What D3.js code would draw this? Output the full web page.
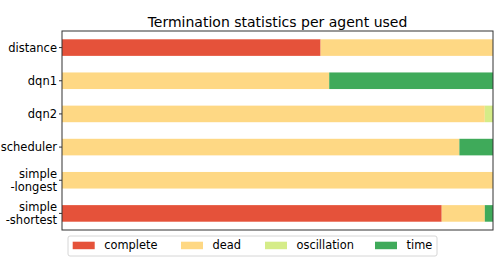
<!DOCTYPE html>
<html>
<head>
<meta charset="utf-8">
<script src="https://cdn.jsdelivr.net/npm/d3@7"></script>
<style>
  body { margin: 0; background: #fff; }
  svg { font-family: "DejaVu Sans", sans-serif; }
</style>
</head>
<body>
<div id="chart"></div>
<script>
// Data (fraction of runs per termination reason)
const agents = ["distance", "dqn1", "dqn2", "scheduler", "simple\n-longest", "simple\n-shortest"];
const complete = [0.60, 0, 0, 0, 0, 0.881];
const dead = [0.40, 0.62, 0.981, 0.922, 1.0, 0.10];
const oscillation = [0, 0, 0.019, 0, 0, 0];
const time = [0, 0.38, 0, 0.078, 0, 0.019];
const reasons = ["complete", "dead", "oscillation", "time"];
const colors = ["#e5523a", "#fed884", "#d5ec88", "#3faa5a"];

const width = 498;
const height = 259;
const margin = { top: 31, right: 5, bottom: 29, left: 62 };

const rows = agents.map((a, i) => ({
  agent: a,
  complete: complete[i],
  dead: dead[i],
  oscillation: oscillation[i],
  time: time[i],
}));

const svg = d3
  .select("#chart")
  .append("svg")
  .attr("width", width)
  .attr("height", height);

const xScale = d3
  .scaleLinear()
  .domain([0, 1])
  .range([margin.left, width - margin.right]);

const yScale = d3
  .scaleBand()
  .domain(agents)
  .range([margin.top, height - margin.bottom])
  .paddingInner(0.5)
  .paddingOuter(0.25);

const color = d3.scaleOrdinal().domain(reasons).range(colors);

const series = d3.stack().keys(reasons)(rows);

// Bars
svg
  .append("g")
  .selectAll("g")
  .data(series)
  .join("g")
  .attr("fill", (d) => color(d.key))
  .selectAll("rect")
  .data((d) => d)
  .join("rect")
  .attr("x", (d) => xScale(d[0]))
  .attr("width", (d) => xScale(d[1]) - xScale(d[0]))
  .attr("y", (d) => yScale(d.data.agent))
  .attr("height", yScale.bandwidth());

// Frame
svg
  .append("rect")
  .attr("x", margin.left)
  .attr("y", margin.top)
  .attr("width", width - margin.left - margin.right)
  .attr("height", height - margin.top - margin.bottom)
  .attr("fill", "none")
  .attr("stroke", "#333")
  .attr("stroke-width", 1);

// Y axis with multi-line labels
const yAxis = svg
  .append("g")
  .attr("transform", `translate(${margin.left},0)`)
  .call(
    d3.axisLeft(yScale).tickSize(3).tickPadding(4).tickFormat(() => "")
  )
  .attr("font-family", "DejaVu Sans, sans-serif")
  .attr("font-size", 11.5);
yAxis.select(".domain").remove();
yAxis.selectAll(".tick line").attr("stroke", "#333");

yAxis.selectAll(".tick").each(function (d) {
  const lines = d.split("\n");
  const t = d3
    .select(this)
    .select("text")
    .attr("fill", "#000")
    .attr("x", -5)
    .attr("dy", null)
    .attr("y", 0);
  const lh = 13.5;
  lines.forEach((ln, i) => {
    t.append("tspan")
      .attr("x", -5)
      .attr("y", (i - (lines.length - 1) / 2) * lh)
      .attr("dy", "0.35em")
      .text(ln);
  });
});

// Title
svg
  .append("text")
  .attr("x", (margin.left + width - margin.right) / 2)
  .attr("y", 26.5)
  .attr("text-anchor", "middle")
  .style("font-size", "14px")
  .attr("fill", "#000")
  .text("Termination statistics per agent used");

// Legend
const legend = svg.append("g");
legend
  .append("rect")
  .attr("x", 68)
  .attr("y", 236)
  .attr("width", 369)
  .attr("height", 20)
  .attr("rx", 2)
  .attr("fill", "#fff")
  .attr("stroke", "#d6d6d6");

const legendX = [72.7, 181, 265, 375];
reasons.forEach((r, i) => {
  legend
    .append("rect")
    .attr("x", legendX[i])
    .attr("y", 241.7)
    .attr("width", 22)
    .attr("height", 7.5)
    .attr("fill", color(r));
  legend
    .append("text")
    .attr("x", legendX[i] + 31.5)
    .attr("y", 245.5)
    .attr("dy", "0.35em")
    .style("font-size", "11.4px")
    .attr("fill", "#000")
    .text(r);
});
</script>
</body>
</html>
